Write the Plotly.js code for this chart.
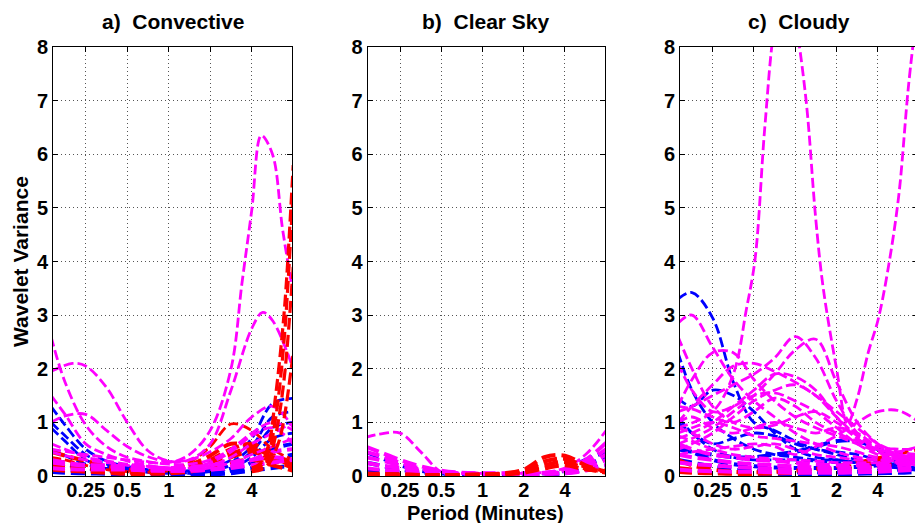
<!DOCTYPE html>
<html>
<head>
<meta charset="utf-8">
<script src="https://cdn.plot.ly/plotly-3.0.1.min.js"></script>
<style>
  html, body { margin: 0; padding: 0; overflow: hidden; background: #fff; }
  #chart { width: 920px; height: 523px; }
</style>
</head>
<body>
<div id="chart"></div>
<script>
// ---------------- DATA ----------------
// Common period grid (minutes)
const periods = [0.14, 0.177, 0.25, 0.354, 0.5, 0.707, 1, 1.41, 2, 2.83, 4, 5.66, 8];
const tickVals = [0.25, 0.5, 1, 2, 4];
const tickText = ['0.25', '0.5', '1', '2', '4'];
const panelTitles = ['a)\u00a0 Convective', 'b)\u00a0 Clear Sky', 'c)\u00a0 Cloudy'];
const yLabel = 'Wavelet Variance';
const xLabel = 'Period (Minutes)';

// a) Convective
const convBlue = [
  [1.3, 0.95, 0.5, 0.28, 0.18, 0.12, 0.1, 0.1, 0.15, 0.3, 0.7, 1.35, 1.45],
  [1.0, 0.75, 0.4, 0.22, 0.14, 0.1, 0.08, 0.08, 0.12, 0.25, 0.55, 1.1, 1.2],
  [0.9, 0.65, 0.3, 0.18, 0.12, 0.08, 0.06, 0.06, 0.1, 0.2, 0.45, 0.9, 1.0],
  [0.5, 0.38, 0.22, 0.14, 0.1, 0.07, 0.05, 0.05, 0.08, 0.15, 0.35, 0.7, 0.8],
  [0.3, 0.22, 0.15, 0.1, 0.08, 0.06, 0.05, 0.05, 0.06, 0.1, 0.25, 0.5, 0.6],
  [0.15, 0.12, 0.1, 0.07, 0.05, 0.04, 0.03, 0.03, 0.04, 0.08, 0.15, 0.3, 0.4],
  [0.08, 0.06, 0.05, 0.04, 0.03, 0.03, 0.02, 0.02, 0.03, 0.05, 0.1, 0.15, 0.2]
];
const convRed = [
  [0.35, 0.3, 0.2, 0.12, 0.08, 0.07, 0.1, 0.25, 0.55, 0.97, 0.85, 0.5, 0.3],
  [0.45, 0.38, 0.28, 0.18, 0.12, 0.1, 0.12, 0.2, 0.38, 0.6, 0.55, 0.35, 0.2],
  [0.3, 0.25, 0.18, 0.12, 0.08, 0.06, 0.08, 0.15, 0.3, 0.5, 0.6, 0.4, 0.25],
  [0.2, 0.17, 0.12, 0.08, 0.06, 0.05, 0.06, 0.1, 0.2, 0.35, 0.45, 0.3, 0.15],
  [0.12, 0.1, 0.08, 0.06, 0.04, 0.04, 0.05, 0.08, 0.15, 0.25, 0.3, 0.2, 0.1],
  [0.25, 0.2, 0.14, 0.1, 0.07, 0.06, 0.07, 0.12, 0.25, 0.42, 0.5, 0.35, 0.18]
];
const convMagenta = [
  [1.0, 1.12, 1.15, 0.85, 0.55, 0.36, 0.27, 0.3, 0.45, 0.7, 1.1, 1.3, 0.9],
  [2.6, 1.75, 0.95, 0.55, 0.35, 0.27, 0.22, 0.22, 0.3, 0.5, 0.8, 1.0, 0.85],
  [1.5, 1.15, 0.6, 0.4, 0.28, 0.2, 0.15, 0.15, 0.25, 0.45, 0.75, 0.9, 0.6],
  [0.6, 0.5, 0.35, 0.28, 0.22, 0.18, 0.15, 0.15, 0.2, 0.35, 0.6, 0.8, 1.0],
  [0.45, 0.38, 0.3, 0.25, 0.2, 0.16, 0.12, 0.12, 0.15, 0.25, 0.4, 0.55, 0.7],
  [0.3, 0.25, 0.2, 0.18, 0.15, 0.12, 0.1, 0.1, 0.12, 0.18, 0.3, 0.45, 0.5],
  [0.25, 0.22, 0.2, 0.2, 0.18, 0.16, 0.15, 0.16, 0.2, 0.25, 0.3, 0.35, 0.3],
  [0.15, 0.13, 0.12, 0.12, 0.12, 0.1, 0.1, 0.1, 0.12, 0.15, 0.2, 0.25, 0.3]
];
const convPeak1X = [0.14, 0.25, 0.5, 1, 1.41, 2, 2.83, 3.4, 4, 4.7, 5.66, 6.7, 8];
const convPeak1Y = [0.5, 0.4, 0.3, 0.25, 0.4, 0.85, 2.0, 3.6, 4.95, 6.35, 6.0, 4.6, 3.4];
const convPeak2X = [0.14, 0.2, 0.25, 0.354, 0.5, 0.707, 1, 1.41, 2, 2.83, 4, 4.8, 5.66, 8];
const convPeak2Y = [1.95, 2.1, 2.05, 1.65, 1.0, 0.47, 0.28, 0.3, 0.6, 1.6, 2.75, 3.05, 2.9, 2.0];
const convRedSteepX = [4, 4.7, 5.4, 5.9, 6.4, 7, 8];
const convRedSteep = [
  [0.15, 0.25, 0.67, 1.4, 2.2, 3.3, 5.8],
  [0.1, 0.2, 0.5, 1.0, 1.7, 2.8, 5.3],
  [0.1, 0.15, 0.35, 0.7, 1.2, 2.0, 3.9],
  [0.08, 0.12, 0.25, 0.45, 0.7, 1.2, 2.3]
];

// b) Clear Sky
const clearBlue = [
  [0.45, 0.35, 0.2, 0.1, 0.05, 0.03, 0.03, 0.03, 0.03, 0.05, 0.1, 0.3, 0.45],
  [0.25, 0.2, 0.12, 0.07, 0.04, 0.03, 0.02, 0.02, 0.02, 0.04, 0.08, 0.2, 0.35],
  [0.12, 0.1, 0.07, 0.04, 0.03, 0.02, 0.02, 0.02, 0.02, 0.03, 0.05, 0.12, 0.2]
];
const clearRed = [
  [0.05, 0.04, 0.03, 0.02, 0.02, 0.02, 0.03, 0.05, 0.12, 0.35, 0.38, 0.2, 0.08],
  [0.04, 0.03, 0.03, 0.02, 0.02, 0.02, 0.03, 0.04, 0.1, 0.27, 0.32, 0.17, 0.07],
  [0.03, 0.03, 0.02, 0.02, 0.02, 0.02, 0.02, 0.03, 0.08, 0.2, 0.26, 0.14, 0.06],
  [0.03, 0.02, 0.02, 0.02, 0.01, 0.01, 0.02, 0.03, 0.06, 0.14, 0.2, 0.12, 0.1]
];
const clearMagenta = [
  [0.72, 0.78, 0.8, 0.45, 0.08, 0.05, 0.05, 0.05, 0.05, 0.07, 0.15, 0.4, 0.85],
  [0.55, 0.45, 0.3, 0.18, 0.1, 0.06, 0.05, 0.05, 0.05, 0.06, 0.12, 0.3, 0.62],
  [0.45, 0.38, 0.25, 0.14, 0.08, 0.05, 0.04, 0.04, 0.04, 0.05, 0.1, 0.25, 0.5],
  [0.35, 0.3, 0.2, 0.12, 0.07, 0.05, 0.04, 0.04, 0.04, 0.05, 0.08, 0.2, 0.4],
  [0.25, 0.2, 0.15, 0.1, 0.06, 0.04, 0.04, 0.04, 0.04, 0.04, 0.07, 0.15, 0.3],
  [0.15, 0.12, 0.1, 0.07, 0.05, 0.04, 0.03, 0.03, 0.03, 0.04, 0.05, 0.1, 0.2]
];

// c) Cloudy
const cloudyBlue = [
  [3.3, 3.42, 2.95, 1.75, 1.0, 0.85, 0.65, 0.5, 0.4, 0.3, 0.2, 0.15, 0.1],
  [2.3, 1.6, 1.0, 0.7, 0.5, 0.4, 0.35, 0.3, 0.3, 0.25, 0.2, 0.15, 0.15],
  [1.45, 1.3, 1.6, 1.5, 1.2, 0.8, 0.5, 0.35, 0.3, 0.25, 0.2, 0.18, 0.15],
  [1.0, 0.8, 0.6, 0.7, 0.8, 0.75, 0.6, 0.5, 0.45, 0.4, 0.3, 0.2, 0.15],
  [0.5, 0.45, 0.4, 0.35, 0.35, 0.4, 0.45, 0.55, 0.65, 0.65, 0.5, 0.35, 0.3],
  [1.1, 0.8, 0.5, 0.35, 0.3, 0.3, 0.3, 0.28, 0.25, 0.25, 0.25, 0.3, 0.35],
  [0.6, 0.45, 0.3, 0.22, 0.18, 0.16, 0.15, 0.15, 0.15, 0.17, 0.2, 0.25, 0.3],
  [0.3, 0.25, 0.18, 0.12, 0.1, 0.08, 0.07, 0.07, 0.07, 0.08, 0.1, 0.12, 0.15],
  [0.1, 0.08, 0.06, 0.05, 0.04, 0.03, 0.03, 0.03, 0.03, 0.04, 0.05, 0.06, 0.08]
];
const cloudyRed = [
  [0.3, 0.2, 0.12, 0.08, 0.07, 0.08, 0.1, 0.13, 0.18, 0.25, 0.33, 0.42, 0.5],
  [0.15, 0.12, 0.08, 0.06, 0.05, 0.06, 0.08, 0.1, 0.14, 0.2, 0.26, 0.33, 0.4],
  [0.08, 0.06, 0.05, 0.04, 0.04, 0.05, 0.06, 0.08, 0.1, 0.14, 0.18, 0.23, 0.28]
];
const cloudyMagenta = [
  [2.6, 2.0, 1.3, 1.0, 0.9, 0.95, 1.1, 1.2, 1.0, 0.7, 0.45, 0.3, 0.25],
  [2.85, 3.0, 2.4, 1.8, 1.4, 1.1, 0.8, 0.6, 0.45, 0.35, 0.3, 0.25, 0.2],
  [1.2, 1.3, 1.5, 1.7, 1.9, 2.2, 2.6, 2.2, 1.4, 0.8, 0.5, 0.35, 0.3],
  [0.6, 0.7, 0.9, 1.2, 1.5, 1.9, 2.35, 2.55, 1.75, 1.0, 0.6, 0.4, 0.35],
  [1.0, 1.3, 1.7, 2.05, 2.1, 1.95, 1.75, 1.5, 1.2, 0.9, 0.6, 0.45, 0.4],
  [1.3, 1.8, 2.3, 2.3, 1.8, 1.4, 1.1, 0.9, 0.75, 0.6, 0.45, 0.35, 0.3],
  [0.7, 0.8, 1.0, 1.3, 1.6, 1.9, 1.85, 1.6, 1.1, 0.7, 0.45, 0.35, 0.3],
  [0.5, 0.6, 0.8, 1.1, 1.4, 1.6, 1.7, 1.5, 1.1, 0.75, 0.5, 0.4, 0.35],
  [2.1, 1.6, 1.2, 1.3, 1.5, 1.55, 1.4, 1.2, 0.9, 0.6, 0.4, 0.3, 0.25],
  [1.3, 1.25, 1.1, 1.0, 1.2, 1.45, 1.3, 1.0, 0.8, 0.65, 0.5, 0.4, 0.35],
  [1.0, 1.1, 0.9, 0.8, 0.9, 1.0, 0.9, 0.8, 0.9, 0.8, 0.55, 0.5, 0.5],
  [0.8, 0.9, 1.0, 0.9, 0.75, 0.7, 0.65, 0.6, 0.55, 0.45, 0.35, 0.45, 0.55],
  [0.9, 0.8, 0.6, 0.5, 0.55, 0.6, 0.5, 0.4, 0.35, 0.3, 0.3, 0.35, 0.4],
  [0.4, 0.45, 0.5, 0.55, 0.6, 0.55, 0.4, 0.55, 0.75, 1.0, 1.2, 1.22, 1.0],
  [0.6, 0.5, 0.4, 0.35, 0.3, 0.28, 0.25, 0.22, 0.2, 0.2, 0.22, 0.25, 0.28],
  [0.4, 0.35, 0.3, 0.25, 0.22, 0.2, 0.18, 0.16, 0.15, 0.15, 0.17, 0.2, 0.22],
  [0.25, 0.22, 0.2, 0.17, 0.15, 0.13, 0.12, 0.11, 0.1, 0.1, 0.12, 0.14, 0.16],
  [0.12, 0.1, 0.09, 0.08, 0.08, 0.07, 0.06, 0.06, 0.06, 0.07, 0.08, 0.1, 0.12],
  [0.75, 0.65, 0.5, 0.4, 0.35, 0.32, 0.3, 0.28, 0.25, 0.25, 0.25, 0.3, 0.33]
];
const cloudyPeakX = [0.14, 0.25, 0.354, 0.44, 0.51, 0.6, 0.707, 0.85, 1.0, 1.2, 1.41, 1.6, 2.0, 2.4, 2.83, 3.4, 4, 4.7, 5.66, 6.7, 8];
const cloudyPeakY = [0.9, 1.2, 1.9, 3.1, 4.05, 6.5, 8.4, 9.3, 8.5, 7.0, 4.8, 3.5, 2.0, 0.98, 1.45, 2.3, 2.9, 3.8, 5.2, 7.3, 9.0];

// ---------------- BUILD ----------------
const BLUE = '#0000FF', RED = '#FF0000', MAGENTA = '#FF00FF';
const traces = [];
function line(x, y, color, k, w) {
  const lw = w || 2.8;
  traces.push({
    x: x, y: y, type: 'scatter', mode: 'lines',
    line: { color: color, width: lw, dash: (lw * 3.6).toFixed(0) + 'px,' + (lw * 1.6).toFixed(0) + 'px', shape: 'spline' },
    xaxis: k === 1 ? 'x' : 'x' + k, yaxis: k === 1 ? 'y' : 'y' + k,
    hoverinfo: 'skip', showlegend: false
  });
}
// lines that stay low are drawn a little heavier, as the dense bottom band is in the original
function group(arr, color, k) {
  arr.forEach(function (y) {
    const mx = Math.max.apply(null, y);
    line(periods, y, color, k, mx < 0.7 ? 4 : 2.8);
  });
}

group(convBlue, BLUE, 1);
group(convRed, RED, 1);
group(convMagenta, MAGENTA, 1);
line(convPeak2X, convPeak2Y, MAGENTA, 1);
line(convPeak1X, convPeak1Y, MAGENTA, 1);
convRedSteep.forEach(function (y) { line(convRedSteepX, y, RED, 1, 3.2); });

group(clearBlue, BLUE, 2);
group(clearMagenta, MAGENTA, 2);
group(clearRed, RED, 2);

group(cloudyBlue, BLUE, 3);
group(cloudyRed, RED, 3);
group(cloudyMagenta, MAGENTA, 3);
line(cloudyPeakX, cloudyPeakY, MAGENTA, 3);

const W = 920, H = 523;
const FONT = 'Liberation Sans, Arial, Helvetica, sans-serif';
const xDomains = [[53 / W, 292 / W], [367.5 / W, 605 / W], [680 / W, 918 / W]];
const yDomain = [(H - 476) / H, (H - 47) / H];
const tickFont = { family: FONT, size: 20, color: '#000', weight: 'bold' };

function xAxis(i) {
  return {
    domain: xDomains[i], anchor: i === 0 ? 'y' : 'y' + (i + 1),
    type: 'log', range: [Math.log10(0.1447), Math.log10(7.84)],
    tickmode: 'array', tickvals: tickVals, ticktext: tickText,
    ticks: 'inside', ticklen: 5, tickcolor: '#000', tickwidth: 1,
    showline: true, linecolor: '#000', linewidth: 1, mirror: 'ticks',
    showgrid: true, gridcolor: '#555', gridwidth: 1, griddash: '1px,3px',
    zeroline: false, tickfont: tickFont, fixedrange: true,
    ticklabelstandoff: -4
  };
}
function yAxis(i) {
  return {
    domain: yDomain, anchor: i === 0 ? 'x' : 'x' + (i + 1),
    range: [0, 8], tickmode: 'array', tickvals: [0, 1, 2, 3, 4, 5, 6, 7, 8],
    ticks: 'inside', ticklen: 5, tickcolor: '#000', tickwidth: 1,
    showline: true, linecolor: '#000', linewidth: 1, mirror: 'ticks',
    showgrid: true, gridcolor: '#555', gridwidth: 1, griddash: '1px,3px',
    zeroline: false, tickfont: tickFont, fixedrange: true
  };
}

const annotations = panelTitles.map(function (t, i) {
  return {
    text: t, xref: 'paper', yref: 'paper',
    x: (xDomains[i][0] + xDomains[i][1]) / 2, y: (H - 22) / H,
    xanchor: 'center', yanchor: 'middle', showarrow: false,
    font: { family: FONT, size: 21, color: '#000', weight: 'bold' }
  };
});
annotations.push({
  text: yLabel, xref: 'paper', yref: 'paper', x: 20 / W, y: (H - 262) / H,
  xanchor: 'center', yanchor: 'middle', textangle: -90, showarrow: false,
  font: { family: FONT, size: 21, color: '#000', weight: 'bold' }
});
annotations.push({
  text: xLabel, xref: 'paper', yref: 'paper', x: 486 / W, y: (H - 513) / H,
  xanchor: 'center', yanchor: 'middle', showarrow: false,
  font: { family: FONT, size: 20, color: '#000', weight: 'bold' }
});

const layout = {
  width: W, height: H, margin: { l: 0, r: 0, t: 0, b: 0 },
  paper_bgcolor: '#fff', plot_bgcolor: '#fff', showlegend: false,
  hovermode: false,
  xaxis: xAxis(0), xaxis2: xAxis(1), xaxis3: xAxis(2),
  yaxis: yAxis(0), yaxis2: yAxis(1), yaxis3: yAxis(2),
  annotations: annotations
};

Plotly.newPlot('chart', traces, layout, { staticPlot: true, displayModeBar: false });
</script>
</body>
</html>
